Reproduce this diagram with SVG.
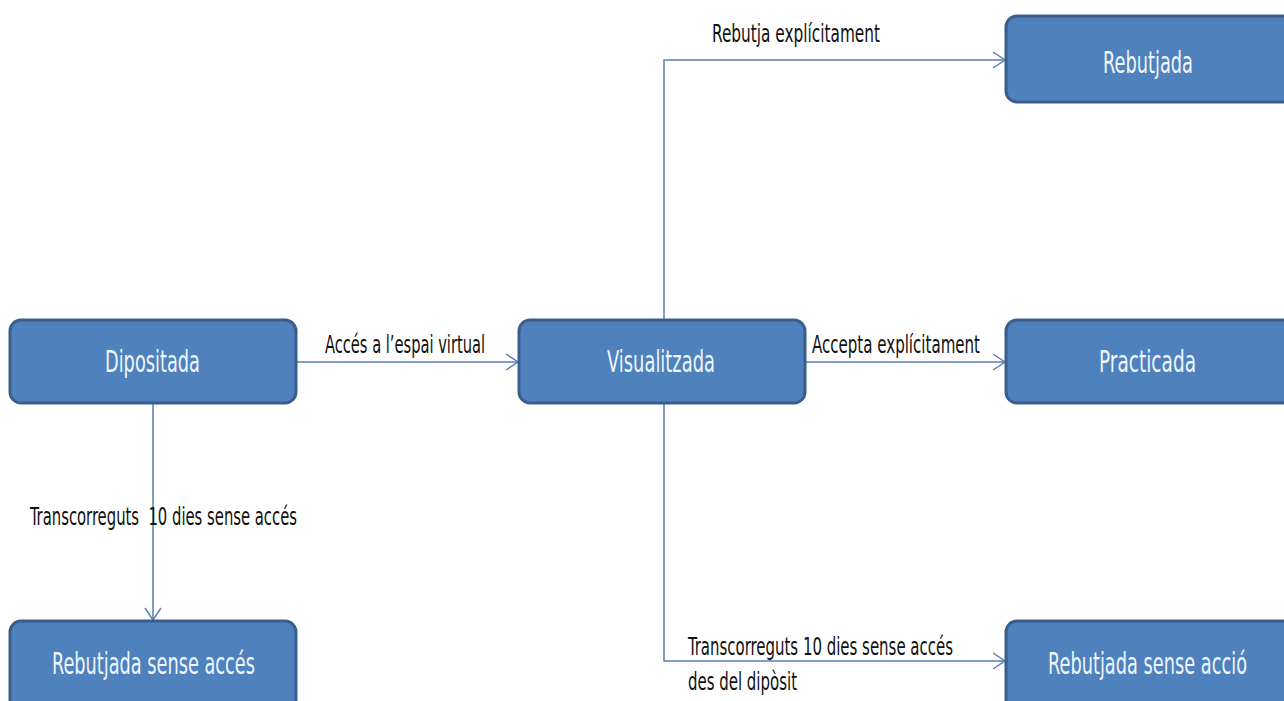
<svg xmlns="http://www.w3.org/2000/svg" width="1284" height="701" viewBox="0 0 1284 701">
<style>
.node rect{fill:#4f81bd;stroke:#3a5e8c;stroke-width:3}
.node text{fill:#eef6ff;font-family:"Liberation Sans Narrow","DejaVu Sans Condensed","Liberation Sans",sans-serif;font-size:31px}
.conn path{fill:none;stroke:#5a7db2;stroke-width:1.5}
.lbl{fill:#111;font-family:"Liberation Sans Narrow","DejaVu Sans Condensed","Liberation Sans",sans-serif;font-size:24px;white-space:pre}
</style>
<defs>
<marker id="arr" markerUnits="userSpaceOnUse" markerWidth="16" markerHeight="20" refX="13" refY="9" orient="auto">
<path d="M1,1 L13,9 L1,17" fill="none" stroke="#5a7db2" stroke-width="1.5"/>
</marker>
</defs>
<rect width="1284" height="701" fill="#ffffff"/>
<g id="connectors" class="conn">
<path d="M296 362 H518" marker-end="url(#arr)"/>
<path d="M153 403 V620" marker-end="url(#arr)"/>
<path d="M664 320 V60 H1005" marker-end="url(#arr)"/>
<path d="M805 362 H1005" marker-end="url(#arr)"/>
<path d="M664 403 V661 H1005" marker-end="url(#arr)"/>
</g>
<g id="labels">
<text class="lbl" x="325" y="353" textLength="160" lengthAdjust="spacingAndGlyphs">Accés a l’espai virtual</text>
<text class="lbl" x="812" y="353" textLength="168" lengthAdjust="spacingAndGlyphs">Accepta explícitament</text>
<text class="lbl" x="712" y="42" textLength="168" lengthAdjust="spacingAndGlyphs">Rebutja explícitament</text>
<text class="lbl" x="30" y="525" textLength="267" lengthAdjust="spacingAndGlyphs">Transcorreguts  10 dies sense accés</text>
<text class="lbl" x="688" y="655" textLength="265" lengthAdjust="spacingAndGlyphs">Transcorreguts 10 dies sense accés</text>
<text class="lbl" x="688" y="690" textLength="109" lengthAdjust="spacingAndGlyphs">des del dipòsit</text>
</g>
<g id="node-dipositada" class="node">
<rect x="10" y="320" width="286" height="83" rx="11"/>
<text x="105" y="372" textLength="95" lengthAdjust="spacingAndGlyphs">Dipositada</text>
</g>
<g id="node-visualitzada" class="node">
<rect x="519" y="320" width="286" height="83" rx="11"/>
<text x="607" y="372" textLength="108" lengthAdjust="spacingAndGlyphs">Visualitzada</text>
</g>
<g id="node-rebutjada" class="node">
<rect x="1006" y="16" width="300" height="86" rx="11"/>
<text x="1103" y="73" textLength="90" lengthAdjust="spacingAndGlyphs">Rebutjada</text>
</g>
<g id="node-practicada" class="node">
<rect x="1006" y="320" width="300" height="83" rx="11"/>
<text x="1099" y="372" textLength="97" lengthAdjust="spacingAndGlyphs">Practicada</text>
</g>
<g id="node-rebutjada-sense-acces" class="node">
<rect x="10" y="621" width="286" height="100" rx="11"/>
<text x="52" y="674" textLength="203" lengthAdjust="spacingAndGlyphs">Rebutjada sense accés</text>
</g>
<g id="node-rebutjada-sense-accio" class="node">
<rect x="1006" y="621" width="300" height="100" rx="11"/>
<text x="1048" y="674" textLength="199" lengthAdjust="spacingAndGlyphs">Rebutjada sense acció</text>
</g>
</svg>
